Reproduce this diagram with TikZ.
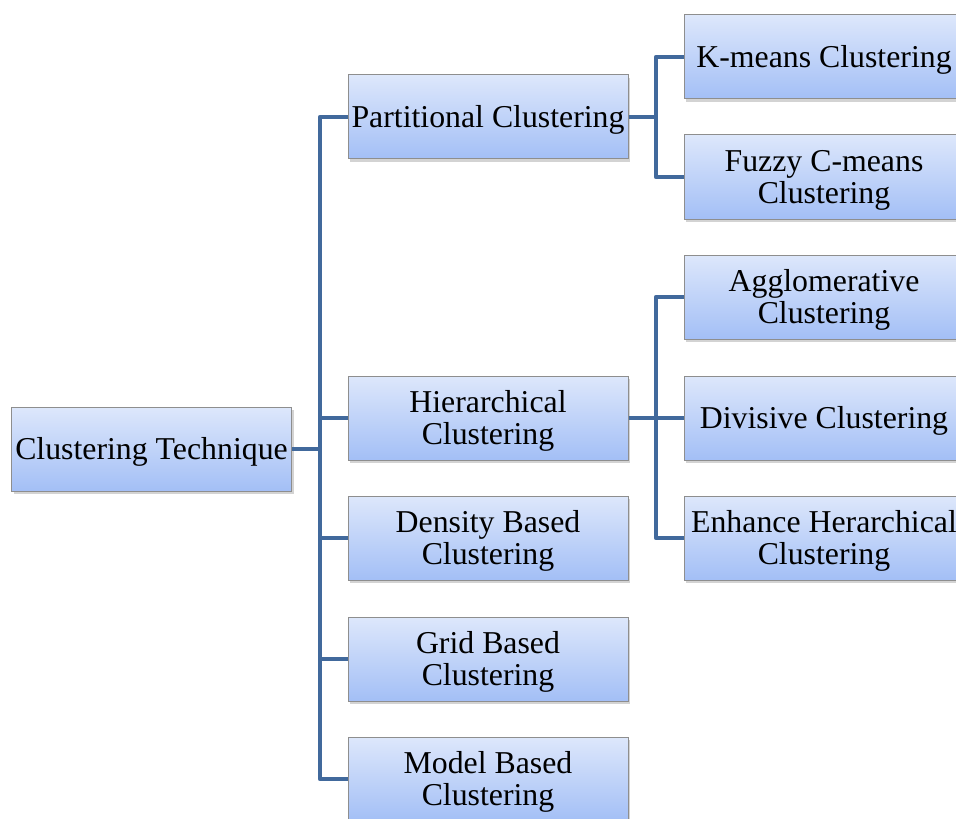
\documentclass[tikz,border=0pt]{standalone}
\usepackage{fontspec}
\setmainfont{Liberation Serif}
\usetikzlibrary{shadows}
\definecolor{linkblue}{HTML}{41699C}
\definecolor{boxtop}{HTML}{DDE7FB}
\definecolor{boxbot}{HTML}{A3BFF6}
\definecolor{boxline}{HTML}{8E8E8E}
\begin{document}
\begin{tikzpicture}[x=0.5pt,y=-0.5pt,
  box/.style={draw=boxline,line width=0.5pt,top color=boxtop,bottom color=boxbot,
    minimum width=140pt,minimum height=42pt,inner sep=0pt,align=center,
    font=\fontsize{15.9}{16}\selectfont,text depth=0.4pt,
    drop shadow={shadow xshift=1pt,shadow yshift=-1.5pt,opacity=0.35}},
  conn/.style={linkblue,line width=2.3pt,line join=round}]
\useasboundingbox (0,0) rectangle (956,818);
% root and first level
\node[box] (root) at (151.5,449) {Clustering Technique};
\node[box] (part) at (488,117) {Partitional Clustering};
\node[box] (hier) at (488,418) {Hierarchical\\Clustering};
\node[box] (dens) at (488,538) {Density Based\\Clustering};
\node[box] (grid) at (488,659) {Grid Based\\Clustering};
\node[box] (model) at (488,779) {Model Based\\Clustering};
% second level
\node[box] (kmeans) at (824,57) {K-means Clustering};
\node[box] (fuzzy) at (824,177) {Fuzzy C-means\\Clustering};
\node[box] (aggl) at (824,297) {Agglomerative\\Clustering};
\node[box] (divi) at (824,418) {Divisive Clustering};
\node[box] (enh) at (824,538) {Enhance Herarchical\\Clustering};
% connectors
\coordinate (t1) at (320,449);
\coordinate (p1) at (656,117);
\coordinate (h1) at (656,418);
\draw[conn] (root) -- (t1);
\foreach \n in {part,hier,dens,grid,model}
  \draw[conn] (\n.west) -| (t1);
\draw[conn] (part) -- (p1);
\foreach \n in {kmeans,fuzzy}
  \draw[conn] (\n.west) -| (p1);
\draw[conn] (hier) -- (h1);
\foreach \n in {aggl,divi,enh}
  \draw[conn] (\n.west) -| (h1);
\end{tikzpicture}
\end{document}
